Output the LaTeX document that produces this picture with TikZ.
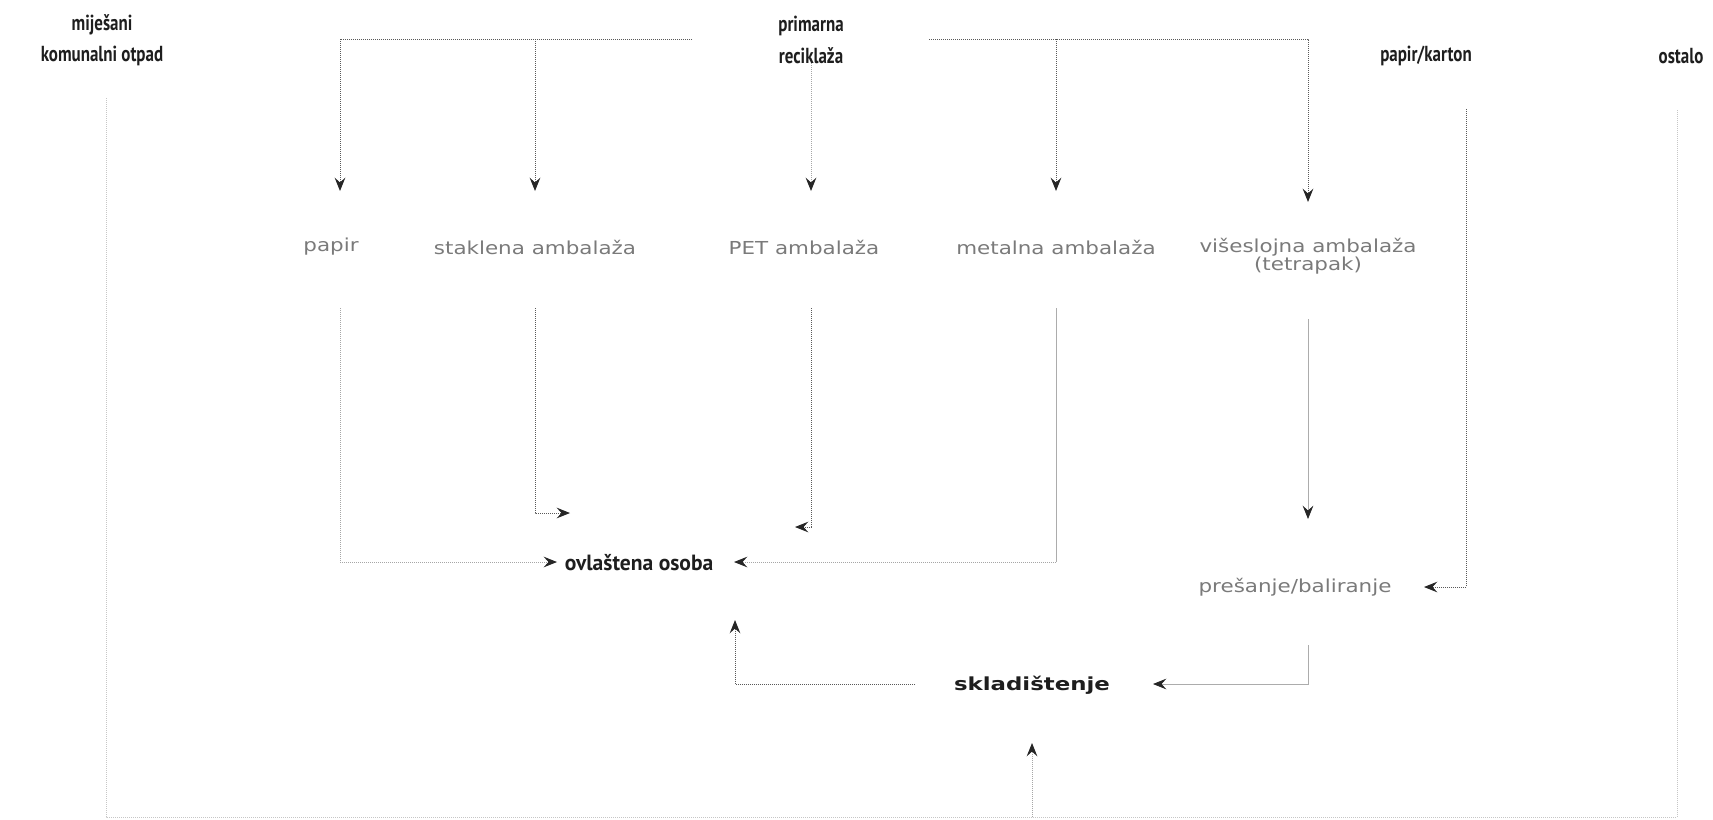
\documentclass[tikz,border=0pt]{standalone}
\usepackage{fontspec}
\usetikzlibrary{arrows.meta}
\newfontfamily\ttlfont[FakeStretch=0.78]{PT Sans}
\newfontfamily\lblfont[FakeStretch=1.2]{DejaVu Sans}
\newfontfamily\sklfont[FakeStretch=1.27]{DejaVu Sans}
\newfontfamily\ovlfont[FakeStretch=0.98]{PT Sans}
\definecolor{lblgray}{HTML}{7A7A7A}
\definecolor{ttlblack}{HTML}{1E1E1E}
\tikzset{
  ttl/.style={font=\ttlfont\bfseries\fontsize{16.3}{23.5}\selectfont, align=center, text=ttlblack, inner sep=2pt},
  lbl/.style={font=\lblfont\fontsize{13.4}{13.4}\selectfont, align=center, text=lblgray, inner sep=2pt},
  ovlstyle/.style={font=\ovlfont\bfseries\fontsize{16.5}{18}\selectfont, text=ttlblack, inner sep=2pt},
  sklstyle/.style={font=\sklfont\bfseries\fontsize{13.5}{16}\selectfont, text=ttlblack, inner sep=2pt},
  tipped/.style={-{Stealth[length=10pt,width=8pt,inset=3.6pt,color=black!85]}},
  dotdark/.style={draw=black!65, line width=0.75pt, dash pattern=on 0.75pt off 0.75pt},
  dotlight/.style={draw=gray!70, line width=0.75pt, dash pattern=on 0.75pt off 0.75pt},
  dotfaint/.style={draw=gray!45, line width=0.75pt, dash pattern=on 0.75pt off 0.75pt},
  solidl/.style={draw=gray!65, line width=0.6pt},
}
\begin{document}
\begin{tikzpicture}[x=0.75pt,y=-0.75pt]
\useasboundingbox (0,0) rectangle (1713,819);
% titles
\node[ttl] (mij) at (102,40) {miješani\\komunalni otpad};
\node[ttl] (prim) at (811,40) {primarna\\reciklaža};
\node[ttl] (pk) at (1426,56) {papir/karton};
\node[ttl] (ost) at (1681,56) {ostalo};
% labels
\node[lbl] (papir) at (331,247) {papir};
\node[lbl] (stak) at (535,247) {staklena ambalaža};
\node[lbl] (pet) at (804,247) {PET ambalaža};
\node[lbl] (met) at (1056,247) {metalna ambalaža};
\node[lbl] (vis) at (1308,256) {višeslojna ambalaža\\(tetrapak)};
\node[ovlstyle] (ovl) at (639,563) {ovlaštena osoba};
\node[lbl] (pres) at (1295,587) {prešanje/baliranje};
\node[sklstyle] (skl) at (1032,685) {skladištenje};
% coordinates
\coordinate (pL) at (692,39);
\coordinate (pR) at (929,39);
\coordinate (aPap) at (340,191);
\coordinate (aStak) at (535,191);
\coordinate (aPet) at (811,191);
\coordinate (aMet) at (1056,191);
\coordinate (aVis) at (1308,202);
\coordinate (sPap) at (340,308);
\coordinate (sStak) at (535,308);
\coordinate (sPet) at (811,308);
\coordinate (sMet) at (1056,308);
\coordinate (sVis) at (1308,319);
\coordinate (ePres) at (1308,519);
\coordinate (sPres) at (1308,645);
\coordinate (eSkl) at (1153,684);
\coordinate (sSkl) at (915,684);
\coordinate (eOvlUp) at (735,620);
\coordinate (eStak) at (570,513);
\coordinate (ePet) at (795,527);
\coordinate (ePap) at (557,562);
\coordinate (eMet) at (734,562);
\coordinate (sPk) at (1466,109);
\coordinate (ePk) at (1424,587);
\coordinate (sMij) at (106,98);
\coordinate (sOst) at (1677,109);
\coordinate (bot) at (1032,817);
\coordinate (eBot) at (1032,743);
% primarna reciklaza distribution
\draw[dotdark,tipped] (pL) -| (aPap);
\draw[dotdark,tipped] (aStak |- pL) -- (aStak);
\draw[dotlight,tipped] (aPet |- prim.south) ++(0,-3) -- (aPet);
\draw[dotdark,tipped] (pR) -| (aVis);
\draw[dotdark,tipped] (aMet |- pR) -- (aMet);
% to ovlastena osoba
\draw[dotlight,tipped] (sPap) |- (ePap);
\draw[dotdark,tipped] (sStak) |- (eStak);
\draw[dotdark,tipped] (sPet) |- (ePet);
\draw[solidl] (sMet) -- (sMet |- eMet);
\draw[dotlight,tipped] (sMet |- eMet) -- (eMet);
% tetrapak chain
\draw[solidl,tipped] (sVis) -- (ePres);
\draw[dotdark,tipped] (sPk) |- (ePk);
\draw[solidl,tipped] (sPres) |- (eSkl);
\draw[dotdark,tipped] (sSkl) -| (eOvlUp);
% bottom loop
\draw[dotfaint] (sMij) |- (bot) -| (sOst);
\draw[dotlight,tipped] (bot) -- (eBot);
\end{tikzpicture}
\end{document}
